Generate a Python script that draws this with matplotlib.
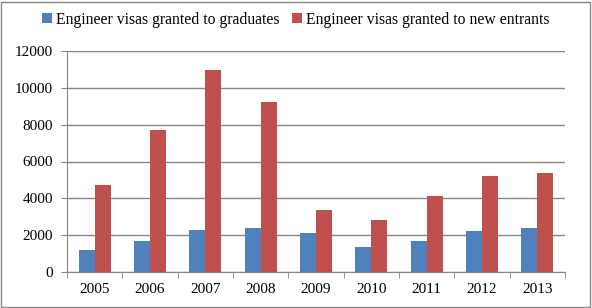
import numpy as np
import matplotlib.pyplot as plt
from matplotlib.patches import Rectangle

years = ['2005', '2006', '2007', '2008', '2009', '2010', '2011', '2012', '2013']
graduates = [1180, 1710, 2300, 2400, 2140, 1380, 1670, 2210, 2410]
new_entrants = [4700, 7700, 10960, 9210, 3360, 2850, 4150, 5200, 5350]

plt.rcParams['font.family'] = ['Liberation Serif', 'DejaVu Serif']
plt.rcParams['font.size'] = 11

fig = plt.figure(figsize=(5.92, 3.08), dpi=100)
ax = fig.add_axes([67/592, 1 - 272/308, 498/592, 221/308])

x = np.arange(len(years))
w = 0.29
ax.bar(x - w/2, graduates, w, color='#4F81BD', label='Engineer visas granted to graduates', zorder=3)
ax.bar(x + w/2, new_entrants, w, color='#C0504D', label='Engineer visas granted to new entrants', zorder=3)

ax.set_xlim(-0.5, len(years) - 0.5)
ax.set_ylim(0, 12000)
ax.set_yticks(range(0, 12001, 2000))
ax.set_xticks(x)
ax.set_xticklabels(years)
ax.set_xticks(np.arange(-0.5, len(years)), minor=True)
ax.tick_params(axis='x', which='major', length=0, pad=8)
ax.tick_params(axis='x', which='minor', length=4, color='#868686')
ax.tick_params(axis='y', length=4, color='#868686', pad=6)
ax.grid(axis='y', color='#868686', linewidth=1, zorder=0)
for s in ['top', 'right']:
    ax.spines[s].set_visible(False)
for s in ['left', 'bottom']:
    ax.spines[s].set_color('#868686')

ax.legend(loc='center', bbox_to_anchor=(0.5, 1 - 20/308), bbox_transform=fig.transFigure,
          ncol=2, frameon=False, handlelength=0.6, handleheight=0.6, handletextpad=0.3,
          columnspacing=0.8, fontsize=11.3)

fig.patches.append(Rectangle((1/592, 1/308), 589/592, 305/308, transform=fig.transFigure,
                             fill=False, edgecolor='#868686', linewidth=1))

fig.savefig('out.png', dpi=100)
